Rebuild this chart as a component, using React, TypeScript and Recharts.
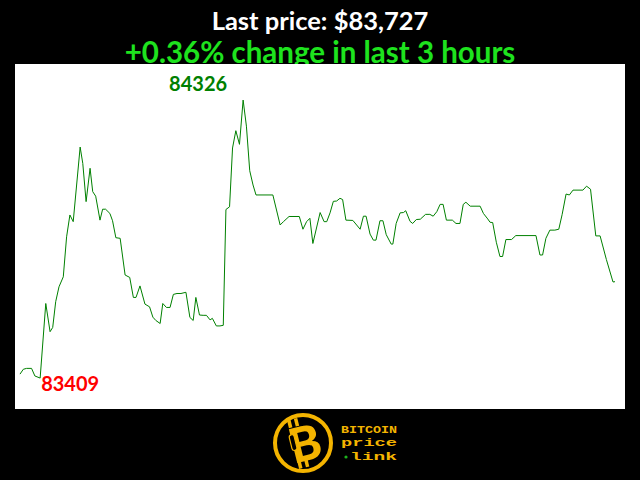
import React from 'react';
import { LineChart, Line, XAxis, YAxis, ReferenceDot } from 'recharts';

const titleLine1 = 'Last price: $83,727';
const titleLine2 = '+0.36% change in last 3 hours';

// minutes since start of the 3 hour window
const times = [0,1,2,3.5,4.5,6.1,7.8,9.1,9.9,10.8,11.8,13.1,14.1,15.1,16.1,18.2,19,20,21.2,22,22.9,24.2,25,25.9,27.2,28,29,30.3,31.8,33.2,34.3,35.1,36.3,37.8,39.2,40.2,41.1,42.4,43.2,44.3,45.4,46.4,47.5,48.7,50.2,51.4,52.4,53.2,54.3,55.4,56.4,57.5,58.2,59.4,60.5,61.5,62.3,63.4,64.3,65.3,66.4,67.5,68.5,69.5,70.5,71.4,76.5,78.7,79.7,81.4,84.5,85.6,86.7,87.7,88.6,90.8,92,92.8,93.8,94.8,95.8,96.8,97.6,98.6,100.7,102.9,103.9,104.7,105.9,106.9,107.7,108.9,109.8,110.8,112.3,112.8,113.8,115,116,116.7,118,118.8,119.9,121.1,122.7,124,125,126.1,127.1,128,129,130.8,131.9,133.1,134.1,134.9,136.2,139.2,140.2,141.5,142.2,143,144.1,145.2,146,147,148.7,150,156.1,157.3,158.1,159.1,160.3,161.8,163,164,165.2,166.2,167.3,170.3,171.4,172.6,174.2,175.5,177.4,179.4,180];

const prices = [83422,83438,83441,83441,83416,83409,83655,83562,83576,83661,83710,83743,83875,83947,83925,84171,84117,83991,84101,84024,84009,83930,83966,83966,83952,83928,83872,83870,83749,83741,83675,83675,83713,83653,83644,83610,83599,83589,83655,83642,83642,83685,83688,83688,83692,83609,83599,83675,83617,83616,83616,83601,83606,83581,83581,83583,83965,83974,84168,84225,84180,84326,84240,84093,84046,84013,84013,83914,83925,83942,83942,83900,83925,83936,83853,83955,83925,83925,83954,83992,83993,84002,83998,83930,83929,83900,83943,83943,83884,83864,83864,83928,83928,83882,83851,83851,83919,83954,83955,83961,83926,83919,83932,83933,83949,83949,83943,83958,83982,83982,83930,83930,83919,83919,83982,83989,83976,83976,83952,83934,83923,83922,83857,83810,83810,83866,83866,83879,83879,83815,83815,83870,83897,83897,83900,83948,84016,84013,84029,84029,84042,84032,83878,83878,83800,83726,83727];

const xDomain = [-1.51, 183.03];
const yDomain = [83307, 84445];

const n = Math.min(times.length, prices.length);
const data = Array.from({ length: n }, (_, i) => ({ t: times[i], price: prices[i] }));

let minIdx = 0;
let maxIdx = 0;
for (let i = 0; i < n; i++) {
  if (prices[i] < prices[minIdx]) minIdx = i;
  if (prices[i] > prices[maxIdx]) maxIdx = i;
}

const MinLabel = (props: any) => {
  const vb = props.viewBox || {};
  return (
    <text x={vb.x + 1} y={vb.y + 13} fill="#ff0000" fontFamily="Lato" fontWeight={700} fontSize={20} textAnchor="start">
      {String(prices[minIdx])}
    </text>
  );
};

const MaxLabel = (props: any) => {
  const vb = props.viewBox || {};
  return (
    <text x={vb.x - 16} y={vb.y - 9} fill="#008000" fontFamily="Lato" fontWeight={700} fontSize={20} textAnchor="end">
      {String(prices[maxIdx])}
    </text>
  );
};

const GOLD = '#f4b400';

const Logo = () => (
  <g>
    <circle cx={303} cy={443} r={28} fill="#000" stroke={GOLD} strokeWidth={4} />
    <g transform="rotate(-14 304 443)">
      <rect x={293} y={417} width={3.5} height={8} fill={GOLD} />
      <rect x={300} y={417} width={3.5} height={8} fill={GOLD} />
      <rect x={293} y={460} width={3.5} height={7} fill={GOLD} />
      <rect x={300} y={460} width={3.5} height={7} fill={GOLD} />
      <text x={305} y={461} fill={GOLD} fontFamily="Lato" fontWeight={900} fontSize={48} textAnchor="middle">B</text>
      <rect x={291} y={432} width={5} height={16} rx={2.5} fill="#000" stroke={GOLD} strokeWidth={1.2} />
    </g>
    <text x={341} y={433} fill={GOLD} fontFamily="Liberation Mono" fontWeight={700} fontSize={11} textLength={56} lengthAdjust="spacingAndGlyphs">BITCOIN</text>
    <text x={341} y={446} fill={GOLD} fontFamily="Liberation Mono" fontWeight={700} fontSize={11} textLength={56} lengthAdjust="spacingAndGlyphs">price</text>
    <circle cx={346} cy={457} r={1.6} fill="#1db31d" />
    <text x={350} y={460} fill={GOLD} fontFamily="Liberation Mono" fontWeight={700} fontSize={11} textLength={47} lengthAdjust="spacingAndGlyphs">link</text>
  </g>
);

export default function App() {
  return (
    <div style={{ position: 'absolute', left: 0, top: 0, width: 640, height: 480, background: '#000', overflow: 'hidden' }}>
      <svg width={640} height={480} style={{ position: 'absolute', left: 0, top: 0 }}>
        <text x={320} y={30} fill="#ffffff" fontFamily="Lato" fontWeight={700} fontSize={25.5} textAnchor="middle">{titleLine1}</text>
        <text x={320} y={63} fill="#1ee31e" fontFamily="Lato" fontWeight={700} fontSize={29.5} textAnchor="middle">{titleLine2}</text>
        <Logo />
      </svg>
      <div style={{ position: 'absolute', left: 15, top: 64, width: 610, height: 345, background: '#ffffff' }}>
        <LineChart width={610} height={345} data={data} margin={{ top: 0, right: 0, bottom: 0, left: 0 }}>
          <XAxis dataKey="t" type="number" domain={xDomain} hide allowDataOverflow />
          <YAxis type="number" domain={yDomain} hide allowDataOverflow />
          <Line type="linear" dataKey="price" stroke="#008000" strokeWidth={1} dot={false} isAnimationActive={false} />
          <ReferenceDot x={times[minIdx]} y={prices[minIdx]} r={0} fill="none" stroke="none" label={<MinLabel />} />
          <ReferenceDot x={times[maxIdx]} y={prices[maxIdx]} r={0} fill="none" stroke="none" label={<MaxLabel />} />
        </LineChart>
      </div>
    </div>
  );
}
